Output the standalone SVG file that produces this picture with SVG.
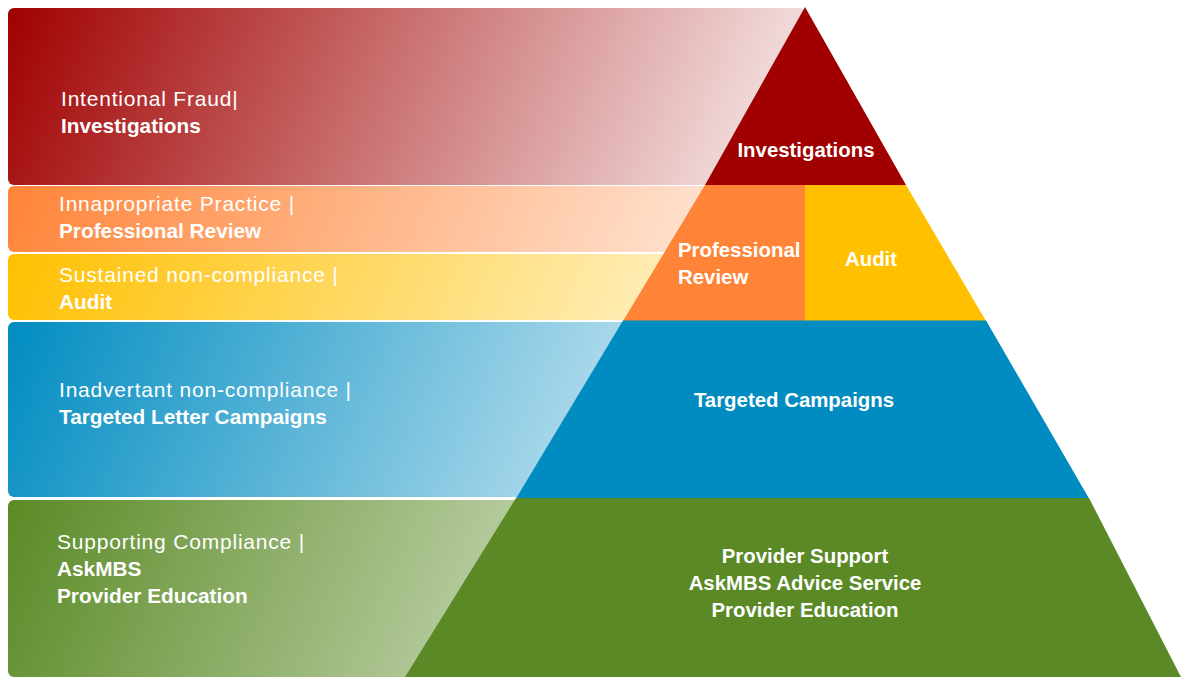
<svg xmlns="http://www.w3.org/2000/svg" width="1181" height="677" viewBox="0 0 1181 677">
  <defs>
    <linearGradient id="gRed" gradientUnits="userSpaceOnUse" x1="8" y1="8" x2="792" y2="350">
      <stop offset="0" stop-color="#A00000" stop-opacity="1"/>
      <stop offset="1" stop-color="#A00000" stop-opacity="0"/>
    </linearGradient>
    <linearGradient id="gOrange" gradientUnits="userSpaceOnUse" x1="8" y1="186" x2="792" y2="528">
      <stop offset="0" stop-color="#FF8438" stop-opacity="1"/>
      <stop offset="1" stop-color="#FF8438" stop-opacity="0"/>
    </linearGradient>
    <linearGradient id="gYellow" gradientUnits="userSpaceOnUse" x1="8" y1="254" x2="792" y2="596">
      <stop offset="0" stop-color="#FFC000" stop-opacity="1"/>
      <stop offset="1" stop-color="#FFC000" stop-opacity="0"/>
    </linearGradient>
    <linearGradient id="gBlue" gradientUnits="userSpaceOnUse" x1="8" y1="322" x2="792" y2="664">
      <stop offset="0" stop-color="#008CC1" stop-opacity="1"/>
      <stop offset="1" stop-color="#008CC1" stop-opacity="0"/>
    </linearGradient>
    <linearGradient id="gGreen" gradientUnits="userSpaceOnUse" x1="8" y1="500" x2="792" y2="842">
      <stop offset="0" stop-color="#5A8A25" stop-opacity="1"/>
      <stop offset="1" stop-color="#5A8A25" stop-opacity="0"/>
    </linearGradient>
  </defs>
  <style>
    text { font-family: "Liberation Sans", Arial, sans-serif; fill: #FFFFFF; }
    .reg { font-size: 21px; letter-spacing: 0.8px; }
    .lb { font-size: 20.8px; font-weight: bold; }
    .pb { font-size: 20.4px; font-weight: bold; }
    .mid { text-anchor: middle; }
  </style>
  <rect width="1181" height="677" fill="#FFFFFF"/>

  <!-- Left bands -->
  <g id="band-fraud">
    <rect x="8" y="8" width="798" height="177" rx="6" fill="url(#gRed)"/>
    <text x="61" y="106" class="reg">Intentional Fraud|</text>
    <text x="61" y="133" class="lb">Investigations</text>
  </g>
  <g id="band-inappropriate">
    <rect x="8" y="186" width="798" height="66" rx="6" fill="url(#gOrange)"/>
    <text x="59" y="211" class="reg">Innapropriate Practice |</text>
    <text x="59" y="238" class="lb">Professional Review</text>
  </g>
  <g id="band-sustained">
    <rect x="8" y="254" width="798" height="66" rx="6" fill="url(#gYellow)"/>
    <text x="59" y="282" class="reg">Sustained non-compliance |</text>
    <text x="59" y="309" class="lb">Audit</text>
  </g>
  <g id="band-inadvertent">
    <rect x="8" y="322" width="798" height="175" rx="6" fill="url(#gBlue)"/>
    <text x="59" y="397" class="reg">Inadvertant non-compliance |</text>
    <text x="59" y="424" class="lb">Targeted Letter Campaigns</text>
  </g>
  <g id="band-supporting">
    <rect x="8" y="500" width="798" height="177" rx="6" fill="url(#gGreen)"/>
    <text x="57" y="549" class="reg">Supporting Compliance |</text>
    <text x="57" y="576" class="lb">AskMBS</text>
    <text x="57" y="603" class="lb">Provider Education</text>
  </g>

  <!-- Pyramid tiers -->
  <g id="tier-investigations">
    <polygon points="805,7 705,185 906,185" fill="#A00000"/>
    <text x="806" y="157" class="pb mid">Investigations</text>
  </g>
  <g id="tier-professional-review">
    <polygon points="705,185 805.5,185 805.5,321 623,321" fill="#FF8437"/>
    <text x="678" y="257" class="pb">Professional</text>
    <text x="678" y="284" class="pb">Review</text>
  </g>
  <g id="tier-audit">
    <polygon points="805,185 906,185 986,321 805,321" fill="#FFC000"/>
    <text x="871" y="266" class="pb mid">Audit</text>
  </g>
  <g id="tier-targeted">
    <polygon points="623,320.5 986,320.5 1089,498.5 516,498.5" fill="#008CC1"/>
    <text x="794" y="407" class="pb mid">Targeted Campaigns</text>
  </g>
  <g id="tier-provider-support">
    <polygon points="516,498 1089,498 1181,677 405,677" fill="#5A8926"/>
    <text x="805" y="563" class="pb mid">Provider Support</text>
    <text x="805" y="590" class="pb mid">AskMBS Advice Service</text>
    <text x="805" y="617" class="pb mid">Provider Education</text>
  </g>

  <g id="connectors"/>
</svg>
